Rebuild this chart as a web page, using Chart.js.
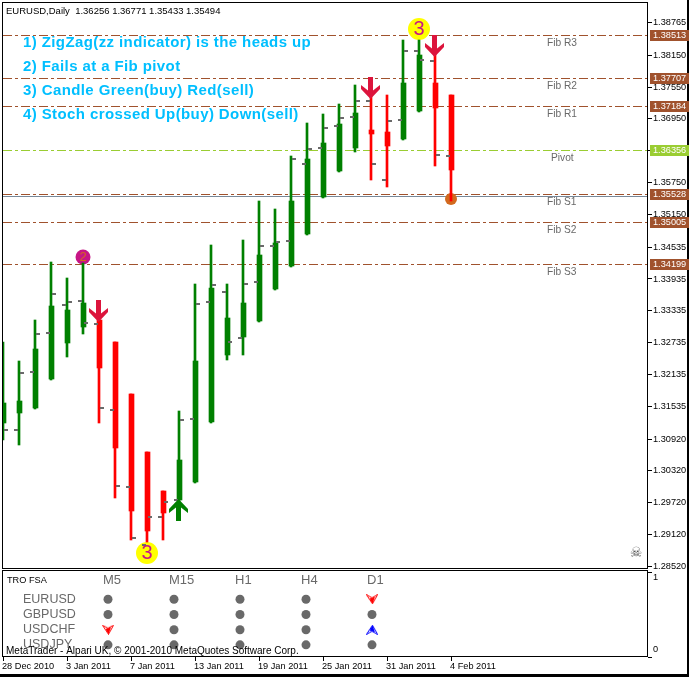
<!DOCTYPE html>
<html>
<head>
<meta charset="utf-8">
<title>EURUSD Daily</title>
<script src="https://cdn.jsdelivr.net/npm/chart.js@4/dist/chart.umd.min.js"></script>
<style>
  html, body { margin: 0; padding: 0; background: #fff; overflow: hidden; }
  canvas { position: absolute; left: 0; top: 0; }
</style>
</head>
<body>
<canvas id="priceChart" width="689" height="677"></canvas>
<canvas id="panelChart" width="689" height="677"></canvas>
<script>
const dates = ["28 Dec 2010", "29 Dec", "30 Dec", "31 Dec", "3 Jan 2011", "4 Jan", "5 Jan", "6 Jan", "7 Jan 2011",
  "10 Jan", "11 Jan", "12 Jan", "13 Jan 2011", "14 Jan", "17 Jan", "18 Jan", "19 Jan 2011", "20 Jan", "21 Jan",
  "24 Jan", "25 Jan 2011", "26 Jan", "27 Jan", "28 Jan", "31 Jan 2011", "1 Feb", "2 Feb", "3 Feb", "4 Feb 2011"];

const opens = [1.31223, 1.31411, 1.31505, 1.32051, 1.32729, 1.33031, 1.33162, 1.32748, 1.31769, 1.30677, 1.29942,
  1.29773, 1.30112, 1.31242, 1.32503, 1.32842, 1.33144, 1.33746, 1.34179, 1.34782, 1.35479, 1.35968, 1.36402,
  1.36741, 1.36703, 1.36571, 1.37098, 1.37626, 1.37400];
const highs = [1.32748, 1.32390, 1.33162, 1.34255, 1.33953, 1.34236, 1.33464, 1.32748, 1.31769, 1.30677, 1.29942,
  1.31449, 1.33840, 1.34575, 1.33840, 1.34669, 1.35403, 1.35253, 1.36251, 1.36872, 1.37042, 1.37230, 1.37588,
  1.37494, 1.37400, 1.38435, 1.38435, 1.38322, 1.37400];
const lows = [1.30903, 1.30809, 1.31486, 1.32033, 1.32466, 1.32899, 1.31223, 1.29810, 1.29019, 1.28982, 1.29019,
  1.29679, 1.30093, 1.31223, 1.32409, 1.32503, 1.33125, 1.33727, 1.34161, 1.34763, 1.35460, 1.35950, 1.36326,
  1.35799, 1.35667, 1.36552, 1.37080, 1.36063, 1.35403];
const closes = [1.31599, 1.31637, 1.32616, 1.33426, 1.33351, 1.33483, 1.32259, 1.30752, 1.29566, 1.29189, 1.29528,
  1.30526, 1.32390, 1.33765, 1.33200, 1.33483, 1.34387, 1.34613, 1.35403, 1.36194, 1.36496, 1.36854, 1.37061,
  1.36665, 1.36439, 1.37626, 1.38153, 1.37155, 1.35987];

// the grey marks either side of each candle
const dashAfter = [1.31091, 1.32165, 1.32899, 1.33652, 1.33501, 1.33106, 1.31505, 1.30036, 1.29057, 1.29453, 1.29735,
  1.31279, 1.33464, 1.33822, 1.32748, 1.33840, 1.34556, 1.34631, 1.36194, 1.36383, 1.36778, 1.36966, 1.37287,
  1.36100, 1.36910, 1.38228, 1.38059, 1.36270];
const dashBefore = [1.31091, 1.32183, 1.32918, 1.33445, 1.33520, 1.33087, 1.31468, 1.30018, 1.28925, 1.29453, 1.29773,
  1.31298, 1.33501, 1.33690, 1.32823, 1.33878, 1.34556, 1.34650, 1.36100, 1.36402, 1.36816, 1.36985, 1.37287,
  1.35799, 1.36929, 1.38228, 1.38040, 1.36251];

const levelNames = ["Fib R3", "Fib R2", "Fib R1", "Pivot", "Fib S1", "Fib S2", "Fib S3"];
const levelValues = [1.38513, 1.37707, 1.37184, 1.36356, 1.35528, 1.35005, 1.34199];
const lastPrice = 1.35494;

const priceTicks = [1.38765, 1.3815, 1.3755, 1.3695, 1.3635, 1.3575, 1.3515, 1.34535, 1.33935, 1.33335, 1.32735,
  1.32135, 1.31535, 1.3092, 1.3032, 1.2972, 1.2912, 1.2852];
const dateTickBars = [0, 4, 8, 12, 16, 20, 24, 28];

const sellArrowBars = [6, 23, 27];
const sellArrowPrices = [1.33332, 1.37532, 1.38322];
const buyArrowBars = [11];
const buyArrowPrices = [1.29575];

const zigzagBars = [9, 26];
const zigzagPrices = [1.28775, 1.38643];
const failBars = [5];
const failPrices = [1.34349];
const exitBars = [28];
const exitPrices = [1.35441];

const notes = [
  "1) ZigZag(zz indicator) is the heads up",
  "2) Fails at a Fib pivot",
  "3) Candle Green(buy) Red(sell)",
  "4) Stoch crossed Up(buy) Down(sell)",
];
const headerText = "EURUSD,Daily  1.36256 1.36771 1.35433 1.35494";
const footerText = "MetaTrader - Alpari UK, © 2001-2010 MetaQuotes Software Corp.";

const timeframes = ["M5", "M15", "H1", "H4", "D1"];
const symbols = ["EURUSD", "GBPUSD", "USDCHF", "USDJPY"];
const signalEURUSD = [0, 0, 0, 0, -1];
const signalGBPUSD = [0, 0, 0, 0, 0];
const signalUSDCHF = [-1, 0, 0, 0, 1];
const signalUSDJPY = [0, 0, 0, 0, 0];

const signalRows = [signalEURUSD, signalGBPUSD, signalUSDCHF, signalUSDJPY];
const rowLevels = [0.679, 0.5, 0.321, 0.143];
const columnBars = [6.5625, 10.6875, 14.8125, 18.9375, 23.0625];

const GREEN = "#008000";
const RED = "#ff0000";
const SIENNA = "#a0522d";
const PIVOT = "#9acd32";
const GREY = "#696969";
const SMALL_FONT = '"Liberation Sans", sans-serif';
const SMALL_SIZE = 9.2;

const xMax = 645 / 16;
const yMax = 1.38765 + 19.5 / 5310;
const yMin = 1.38765 - 545.5 / 5310;

const isUp = opens.map((o, i) => closes[i] >= o);
const candleColors = isUp.map((up) => (up ? GREEN : RED));

function arrowMarker(color, up) {
  const c = document.createElement("canvas");
  c.width = 19;
  c.height = 22;
  const g = c.getContext("2d");
  if (up) {
    g.translate(0, 22);
    g.scale(1, -1);
  }
  g.fillStyle = color;
  g.beginPath();
  [[7, 0], [12, 0], [12, 13.5], [19, 8], [19, 12], [9.5, 22], [0, 12], [0, 8], [7, 13.5]].forEach(([x, y], i) =>
    i ? g.lineTo(x, y) : g.moveTo(x, y)
  );
  g.closePath();
  g.fill();
  return c;
}

function smallSignal(color, up) {
  const c = document.createElement("canvas");
  c.width = 12;
  c.height = 10;
  const g = c.getContext("2d");
  if (up) {
    g.translate(0, 10);
    g.scale(1, -1);
  }
  g.fillStyle = color;
  g.strokeStyle = color;
  g.lineWidth = 1;
  g.beginPath();
  g.moveTo(0.5, 0.5);
  g.lineTo(6, 3.5);
  g.lineTo(11.5, 0.5);
  g.lineTo(6.5, 9.5);
  g.stroke();
  g.beginPath();
  g.moveTo(6, 3.5);
  g.lineTo(9, 2.5);
  g.lineTo(6.5, 9.5);
  g.lineTo(3.5, 4);
  g.closePath();
  g.fill();
  g.beginPath();
  g.moveTo(0.5, 0.5);
  g.lineTo(6.5, 9.5);
  g.stroke();
  return c;
}

function levelDataset(value, color) {
  return {
    type: "line",
    data: [{ x: 0, y: value }, { x: xMax, y: value }],
    borderColor: color,
    borderWidth: 1,
    borderDash: [9, 3, 3, 3],
    pointRadius: 0,
    order: 9,
    snap: "level",
  };
}

function markerDataset(bars, prices, options) {
  return {
    type: "scatter",
    data: bars.map((bar, i) => ({ x: bar, y: prices[i] })),
    showLine: false,
    ...options,
  };
}

// MT4 draws on the pixel grid, so nudge what the scales gave us onto it
const pixelSnap = {
  id: "pixelSnap",
  afterDatasetsUpdate(chart) {
    chart.data.datasets.forEach((ds, i) => {
      chart.getDatasetMeta(i).data.forEach((el) => {
        if (ds.snap === "body" || ds.snap === "wick") {
          el.x = ds.snap === "body" ? Math.round(el.x) + 0.5 : Math.round(el.x);
          el.y = Math.round(el.y);
          el.base = Math.round(el.base);
          el.height = el.base - el.y;
        } else if (ds.snap === "level") {
          el.y = Math.floor(el.y) + 0.5;
        } else if (ds.snap === "dash") {
          el.y = Math.round(el.y);
        } else if (ds.snap === "arrow") {
          el.x = Math.round(el.x) - 0.5;
          el.y = Math.round(el.y);
        }
      });
    });
  },
};

function label(ctx, text, x, y, font, color, align) {
  ctx.font = font;
  ctx.fillStyle = color;
  ctx.textAlign = align || "left";
  ctx.textBaseline = "middle";
  ctx.fillText(text, x, y);
}

const smallFont = SMALL_SIZE + "px " + SMALL_FONT;

// the plot area is pinned by hand, label overhang must not push it in
function pinHeight(scale) {
  scale.paddingTop = 0;
  scale.paddingBottom = 0;
}

const priceOverlay = {
  id: "priceOverlay",
  afterDatasetsDraw(chart) {
    const { ctx, scales } = chart;
    const yScale = scales.y;
    ctx.save();

    ctx.strokeStyle = "#000";
    ctx.lineWidth = 1;
    ctx.strokeRect(2.5, 2.5, 645, 566);

    // digits inside the zigzag and fail circles
    const digit = (datasetIndex, text, font, color) => {
      chart.getDatasetMeta(datasetIndex).data.forEach((p) => {
        label(ctx, text, p.x, p.y + 0.5, font, color, "center");
      });
    };
    digit(8, "3", '20px "Liberation Sans"', "#c71585");
    digit(9, "2", '13px "Liberation Sans"', "#d2691e");

    label(ctx, headerText, 6, 11, "9.5px " + SMALL_FONT, "#000");

    ctx.letterSpacing = "0.4px";
    notes.forEach((note, i) => {
      label(ctx, note, 23, 42.5 + i * 24, 'bold 15px "Liberation Sans"', "#00bfff");
    });
    ctx.letterSpacing = "0px";

    ctx.fillStyle = "#000";
    ctx.fillRect(687, 0, 2, 677);

    levelValues.forEach((value, i) => {
      const row = Math.floor(yScale.getPixelForValue(value));
      const isPivot = levelNames[i] === "Pivot";
      label(ctx, levelNames[i], isPivot ? 551 : 547, row + 8, "10.2px " + SMALL_FONT, GREY);
      ctx.fillStyle = isPivot ? PIVOT : SIENNA;
      ctx.fillRect(650, row - 5, 39, 11);
      label(ctx, value.toFixed(5), 653, row + 0.5, smallFont, "#fff");
    });

    // skull in the corner of the chart
    label(ctx, "\u2620", 636, 553, '14px "DejaVu Sans"', "#555", "center");
    ctx.restore();
  },
};

new Chart(document.getElementById("priceChart"), {
  type: "bar",
  data: {
    datasets: [
      levelDataset(levelValues[0], SIENNA),
      levelDataset(levelValues[1], SIENNA),
      levelDataset(levelValues[2], SIENNA),
      levelDataset(levelValues[3], PIVOT),
      levelDataset(levelValues[4], SIENNA),
      levelDataset(levelValues[5], SIENNA),
      levelDataset(levelValues[6], SIENNA),
      {
        type: "line",
        data: [{ x: 0, y: lastPrice }, { x: xMax, y: lastPrice }],
        borderColor: "#778899",
        borderWidth: 1,
        pointRadius: 0,
        order: 8,
        snap: "level",
      },
      markerDataset(zigzagBars, zigzagPrices, {
        pointRadius: 11, pointBackgroundColor: "#ffff00", pointBorderWidth: 0, order: 7,
      }),
      markerDataset(failBars, failPrices, {
        pointRadius: 7.5, pointBackgroundColor: "#c71585", pointBorderWidth: 0, order: 7,
      }),
      markerDataset(exitBars, exitPrices, {
        pointRadius: 6, pointBackgroundColor: "#d2691e", pointBorderWidth: 0, order: 7,
      }),
      {
        type: "bar",
        data: dates.map((d, i) => ({ x: i, y: [lows[i], highs[i]] })),
        backgroundColor: candleColors,
        barThickness: 2,
        grouped: false,
        order: 6,
        snap: "wick",
      },
      {
        type: "bar",
        data: dates.map((d, i) => ({ x: i, y: [opens[i], closes[i]] })),
        backgroundColor: candleColors,
        barThickness: 5,
        grouped: false,
        order: 5,
        snap: "body",
      },
      markerDataset(dashAfter.map((v, i) => i + 3 / 16), dashAfter, {
        pointStyle: "line", pointRadius: 2, pointBorderWidth: 2, pointBorderColor: GREY, order: 4, snap: "dash",
      }),
      markerDataset(dashBefore.map((v, i) => i + 1 - 3 / 16), dashBefore, {
        pointStyle: "line", pointRadius: 2, pointBorderWidth: 2, pointBorderColor: GREY, order: 4, snap: "dash",
      }),
      markerDataset(sellArrowBars, sellArrowPrices, {
        pointStyle: arrowMarker("#dc143c", false), order: 2, snap: "arrow",
      }),
      markerDataset(buyArrowBars, buyArrowPrices, {
        pointStyle: arrowMarker(GREEN, true), order: 2, snap: "arrow",
      }),
    ],
  },
  options: {
    responsive: false,
    animation: false,
    events: [],
    layout: { autoPadding: false, padding: { left: 3, top: 3, right: 0, bottom: 109 } },
    plugins: { legend: { display: false }, tooltip: { enabled: false } },
    scales: {
      x: { type: "linear", display: false, min: 0, max: xMax, offset: false, grid: { offset: false } },
      y: {
        type: "linear",
        position: "right",
        min: yMin,
        max: yMax,
        afterFit: (scale) => {
          scale.width = 41;
          pinHeight(scale);
        },
        afterBuildTicks: (scale) => { scale.ticks = priceTicks.map((value) => ({ value })); },
        border: { display: false },
        grid: { drawOnChartArea: false, color: "#000", tickLength: 4 },
        ticks: {
          autoSkip: false,
          padding: 1,
          color: "#000",
          font: { family: SMALL_FONT, size: SMALL_SIZE },
          callback: (value) => value.toFixed(5),
        },
      },
    },
  },
  plugins: [pixelSnap, priceOverlay],
});

const panelOverlay = {
  id: "panelOverlay",
  afterDatasetsDraw(chart) {
    const { ctx, scales } = chart;
    ctx.save();
    ctx.strokeStyle = "#000";
    ctx.lineWidth = 1;
    ctx.strokeRect(2.5, 570.5, 645, 86);

    label(ctx, "TRO FSA", 7, 580.5, smallFont, "#000");
    timeframes.forEach((name, i) => {
      label(ctx, name, scales.x.getPixelForValue(columnBars[i]) - 5, 580.5, '13px "Liberation Sans"', GREY);
    });
    symbols.forEach((name, i) => {
      label(ctx, name, 23, scales.y.getPixelForValue(rowLevels[i]), '12.5px "Liberation Sans"', GREY);
    });
    label(ctx, footerText, 6, 651.5, "10px " + SMALL_FONT, "#000");
    label(ctx, "1", 653, 577, smallFont, "#000");
    label(ctx, "0", 653, 649.5, smallFont, "#000");

    ctx.fillStyle = "#000";
    ctx.fillRect(0, 674, 689, 3);
    ctx.restore();
  },
};

const signalPoints = (wanted) => {
  const points = [];
  signalRows.forEach((row, r) => {
    row.forEach((signal, c) => {
      if (signal === wanted) points.push({ x: columnBars[c], y: rowLevels[r] });
    });
  });
  return points;
};

new Chart(document.getElementById("panelChart"), {
  type: "scatter",
  data: {
    datasets: [
      { data: signalPoints(0), pointRadius: 4.5, pointBackgroundColor: GREY, pointBorderWidth: 0 },
      { data: signalPoints(-1), pointStyle: smallSignal(RED, false) },
      { data: signalPoints(1), pointStyle: smallSignal("#0000ff", true) },
    ],
  },
  options: {
    responsive: false,
    animation: false,
    events: [],
    layout: { autoPadding: false, padding: { left: 3, top: 571, right: 0, bottom: 0 } },
    plugins: { legend: { display: false }, tooltip: { enabled: false } },
    scales: {
      x: {
        type: "linear",
        position: "bottom",
        min: 0,
        max: xMax,
        afterFit: (scale) => {
          scale.height = 20;
          scale.paddingLeft = 0;
          scale.paddingRight = 0;
        },
        afterBuildTicks: (scale) => { scale.ticks = dateTickBars.map((value) => ({ value })); },
        border: { display: false },
        grid: { drawOnChartArea: false, color: "#000", tickLength: 4 },
        ticks: {
          autoSkip: false,
          maxRotation: 0,
          align: "start",
          labelOffset: -1,
          padding: 0,
          color: "#000",
          font: { family: SMALL_FONT, size: SMALL_SIZE },
          callback: (value) => dates[value],
        },
      },
      y: {
        type: "linear",
        position: "right",
        min: 0,
        max: 85 / 84,
        afterFit: (scale) => {
          scale.width = 41;
          pinHeight(scale);
        },
        afterBuildTicks: (scale) => { scale.ticks = [{ value: 1 }, { value: 0 }]; },
        border: { display: false },
        grid: { drawOnChartArea: false, color: "#000", tickLength: 4 },
        ticks: { callback: () => "" },
      },
    },
  },
  plugins: [panelOverlay],
});
</script>
</body>
</html>
